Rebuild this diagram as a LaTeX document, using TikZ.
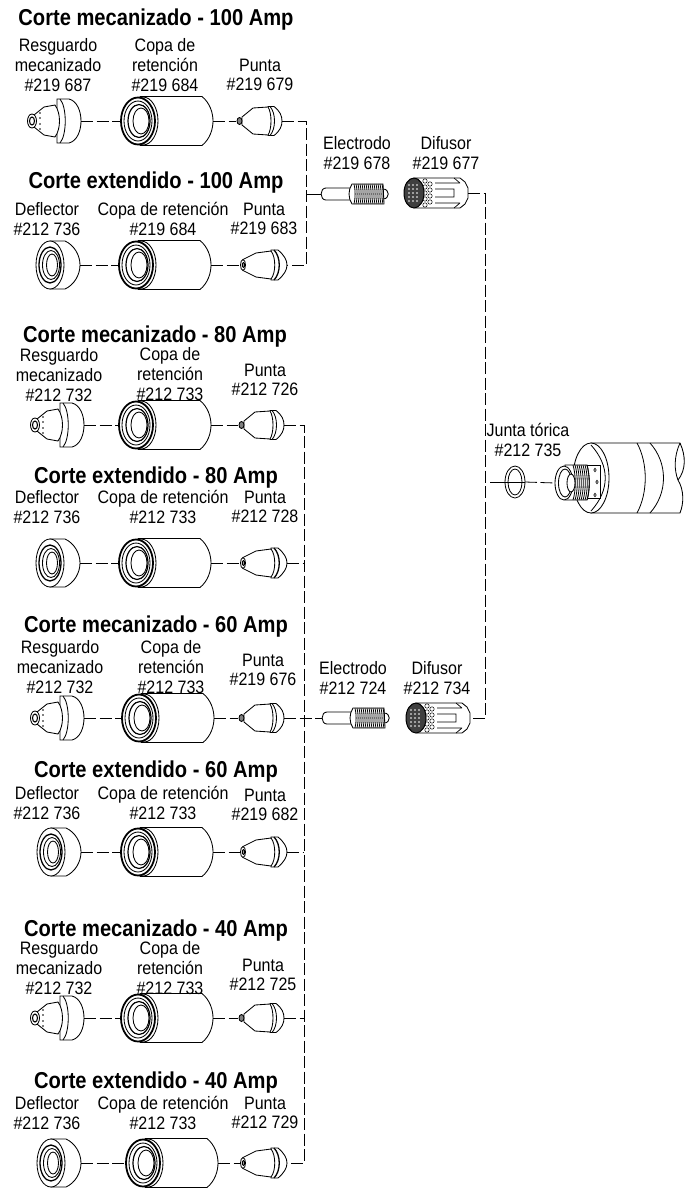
\documentclass[tikz,border=0pt]{standalone}
\usepackage{fontspec}
\setmainfont[FakeStretch=0.89]{Liberation Sans}
\newfontfamily\titfont[FakeStretch=0.875]{Liberation Sans}
\tikzset{
    %Define standard looks
    pieza/.style={draw=black, line width=0.85pt, fill=white},
    linea/.style={draw=black, line width=0.8pt, dash pattern=on 12pt off 3.5pt},
    titulo/.style={font=\titfont\bfseries\fontsize{23}{24}\selectfont, inner sep=0pt},
    etiq/.style={font=\fontsize{18}{19.6}\selectfont, align=center, inner sep=0pt},
    resguardo/.pic={
      \coordinate (-e) at (54,0);
      \coordinate (-w) at (0,0);
      \draw[pieza] (30,-22) -- (42,-22) .. controls (50,-20) and (54,-10) .. (54,0)
        .. controls (54,10) and (50,20) .. (42,22) -- (30,22) -- cycle;
      \draw[pieza] (33,-22) .. controls (40,-14) and (40,14) .. (33,22);
      \draw[pieza] (7,-6) -- (17,-14) -- (28,-16) .. controls (34,-8) and (34,8) .. (28,16) -- (17,14) -- (7,6) -- cycle;
      \draw[pieza] (5,0) ellipse [x radius=4.5pt, y radius=7pt];
      \draw[pieza, line width=1.1pt] (5,0) ellipse [x radius=2.5pt, y radius=4pt];
      \foreach \hy in {-8,-3,3,8} \fill (13,\hy) circle (0.8pt);
    },
    deflector/.pic={
      \coordinate (-e) at (44,0);
      \draw[pieza] (14,-24) -- (29,-24) .. controls (38,-20) and (44,-10) .. (44,0)
        .. controls (44,10) and (38,20) .. (29,24) -- (14,24) -- cycle;
      \draw[pieza] (14,0) ellipse [x radius=14pt, y radius=24pt];
      \draw[pieza, line width=1.3pt] (14,0) ellipse [x radius=11pt, y radius=18pt];
      \draw[pieza] (15,0) ellipse [x radius=8.5pt, y radius=14.5pt];
      \draw[pieza] (16,0) ellipse [x radius=5.5pt, y radius=11pt];
    },
    copa/.pic={
      \coordinate (-w) at (0,0);
      \coordinate (-e) at (93,0);
      \draw[pieza] (20,-24.5) -- (82,-24.5) .. controls (90,-18) and (93,-8) .. (93,0)
        .. controls (93,8) and (90,18) .. (82,24.5) -- (20,24.5) -- cycle;
      \draw[pieza] (23,0) ellipse [x radius=15pt, y radius=24pt];
      \draw[pieza, line width=1.8pt] (18,0) ellipse [x radius=17pt, y radius=23.5pt];
      \draw[pieza] (18,0) ellipse [x radius=14pt, y radius=20pt];
      \draw[pieza, line width=1.2pt] (19,0) ellipse [x radius=11pt, y radius=16.5pt];
      \draw[pieza] (21,0) ellipse [x radius=8pt, y radius=13pt];
    },
    puntam/.pic={
      \coordinate (-w) at (0,0);
      \coordinate (-e) at (46,0);
      \draw[pieza] (32,-14.5) -- (38,-14.5) .. controls (44,-10) and (46,-5) .. (46,0)
        .. controls (46,5) and (44,10) .. (38,14.5) -- (32,14.5) -- cycle;
      \draw[pieza] (34,-14.5) .. controls (40,-8) and (40,8) .. (34,14.5);
      \draw[pieza] (6,-4) -- (17,-13) -- (32,-14) .. controls (36,-8) and (36,8) .. (32,14) -- (17,13) -- (6,4) -- cycle;
      \draw[pieza, fill=black!50] (3.5,0) ellipse [x radius=2.5pt, y radius=3.5pt];
    },
    puntax/.pic={
      \coordinate (-w) at (0,0);
      \coordinate (-e) at (47,0);
      \draw[pieza] (31,-15) -- (38,-15) .. controls (44,-10) and (47,-5) .. (47,0)
        .. controls (47,5) and (44,10) .. (38,15) -- (31,15) -- cycle;
      \draw[pieza, line width=1.3pt] (34,-15) .. controls (41,-8) and (41,8) .. (34,15);
      \draw[pieza] (3,-5.5) -- (16,-12) -- (31,-14) .. controls (36,-8) and (36,8) .. (31,14) -- (16,12) -- (3,5.5) -- cycle;
      \draw[pieza] (3,0) ellipse [x radius=2.5pt, y radius=5.5pt];
      \draw[pieza, fill=black!40] (3.5,0) ellipse [x radius=1.2pt, y radius=2.5pt];
    },
    electrodo/.pic={
      \coordinate (-w) at (0,0);
      \coordinate (-e) at (68,0);
      \draw[pieza] (62,-5) .. controls (69,-5) and (69,5) .. (62,5) -- cycle;
      \draw[pieza] (5,-6) -- (31,-6) -- (31,6) -- (5,6) .. controls (-1.5,6) and (-1.5,-6) .. (5,-6) -- cycle;
      \draw[pieza] (31,-10) -- (62,-10) -- (63,10) -- (31,10) .. controls (27,4) and (27,-4) .. (31,-10) -- cycle;
      \foreach \tx in {33,35,...,61} \draw[line width=0.8pt] (\tx,-10) .. controls (\tx+1.5,-4) and (\tx+1.5,4) .. (\tx,10);
    },
    difusor/.pic={
      \coordinate (-w) at (0,0);
      \coordinate (-e) at (64,0);
      \draw[pieza] (11,-15) -- (56,-15) -- (61,-11) -- (64,-5) -- (64,5) -- (61,11) -- (56,15) -- (11,15) -- cycle;
      \draw[line width=0.7pt] (31,-10) -- (56,-10) (31,10) -- (56,10) (31,-4) -- (50,-4) -- (50,4) -- (31,4) (50,-15) -- (56,-10) (50,15) -- (56,10);
      \foreach \hy in {-12,-6,0,6,12} \draw[pieza, line width=0.5pt] (21,\hy) circle (2.2pt);
      \foreach \hy in {-9,-3,3,9} \draw[pieza, line width=0.5pt] (26,\hy) circle (2.2pt);
      \draw[pieza, fill=black!75, line width=1pt] (10,0) ellipse [x radius=10pt, y radius=15pt];
      \foreach \hx in {5,9,13} \foreach \hy in {-8,-4,0,4,8} \fill[white] (\hx,\hy) circle (0.8pt);
    },
    junta/.pic={
      \coordinate (-w) at (-10,0);
      \coordinate (-e) at (10,0);
      \draw[line width=0.8pt] (0,0) ellipse [x radius=10pt, y radius=16pt];
      \draw[line width=0.8pt] (0,0) ellipse [x radius=7pt, y radius=13pt];
    },
    antorcha/.pic={
      \coordinate (-w) at (-35,5);
      \draw[pieza] (1,-35) -- (90,-35) .. controls (96,-22) and (96,-8) .. (88,2)
        .. controls (94,12) and (94,25) .. (90,35) -- (1,35) -- cycle;
      \draw[line width=0.8pt] (90,-35) .. controls (84,-22) and (84,-8) .. (88,2);
      \draw[line width=0.8pt] (47,-35) .. controls (58,-15) and (58,15) .. (47,35);
      \draw[line width=0.8pt] (60,-35) .. controls (78,-15) and (78,15) .. (60,35);
      \draw[pieza] (1,0) ellipse [x radius=18pt, y radius=35pt];
      \draw[line width=0.8pt] (1,-33) .. controls (20,-12) and (20,12) .. (1,33);
      \draw[pieza] (-8,-13) rectangle (10,20);
      \foreach \hy/\hx in {-8/5,4/7,17/5} \draw[line width=0.6pt] (\hx,\hy) ellipse [x radius=1.2pt, y radius=1.8pt];
      \draw[pieza] (-25,-13) -- (-3,-13) .. controls (0,-2) and (0,12) .. (-3,22) -- (-25,22) -- cycle;
      \foreach \tx in {-17,-15,...,-3} \draw[line width=0.8pt] (\tx,-13) .. controls (\tx+3,-3) and (\tx+3,13) .. (\tx,22);
      \draw[pieza] (-26,5) ellipse [x radius=9pt, y radius=17pt];
      \draw[pieza] (-25,5) ellipse [x radius=6.5pt, y radius=14pt];
      \draw[pieza] (-19,5) ellipse [x radius=4pt, y radius=9pt];
    }
}
\begin{document}
\begin{tikzpicture}[x=1pt,y=-1pt]
\useasboundingbox (0,0) rectangle (696,1192);
% mechanized rows
\foreach \n/\fy/\xa/\xb/\xc/\xbus in {a/121/27/120/236/306, c/425/30/118/238/304, e/718/30/121/238/304, g/1018/30/120/238/304} {
  \pic (\n1) at (\xa,\fy) {resguardo};
  \pic (\n2) at (\xb,\fy) {copa};
  \pic (\n3) at (\xc,\fy) {puntam};
  \coordinate (bus\n) at (\xbus,\fy);
  \draw[linea] (\n1-e) -- (\n2-w);
  \draw[linea] (\n2-e) -- (\n3-w);
}
% extended rows
\foreach \n/\fy/\xa/\xb/\xc/\xbus in {b/265/36/118/240/306, d/563/36/118/240/304, f/852/37/120/240/304, h/1163/37/125/240/304} {
  \pic (\n1) at (\xa,\fy) {deflector};
  \pic (\n2) at (\xb,\fy) {copa};
  \pic (\n3) at (\xc,\fy) {puntax};
  \coordinate (bus\n) at (\xbus,\fy);
  \draw[linea] (\n1-e) -- (\n2-w);
  \draw[linea] (\n2-e) -- (\n3-w);
}
% right hand parts
\pic (elec1) at (321,194) {electrodo};
\pic (dif1) at (404,193) {difusor};
\pic (elec2) at (322,718) {electrodo};
\pic (dif2) at (406,718) {difusor};
\pic (anillo) at (515,482) {junta};
\pic (torch) at (590,478) {antorcha};
% buses
\coordinate (busu) at (306,194);
\coordinate (busm) at (304,718);
\coordinate (cola) at (485,193);
\coordinate (colb) at (485,718);
\coordinate (colc) at (490,482);
\draw[linea] (a3-e) -- (busa) -- (busb) -- (b3-e);
\draw[linea] (c3-e) -- (busc) -- (bush) -- (h3-e);
\foreach \n in {d,f,g} \draw[linea] (\n3-e) -- (bus\n);
\draw[draw=black, line width=0.8pt] (busu) -- (elec1-w);
\draw[linea] (e3-e) -- (elec2-w);
\draw[linea] (dif1-e) -- (cola) -- (colb) -- (dif2-e);
\draw[draw=black, line width=0.8pt] (colc) -- (anillo-e);
\draw[linea] (anillo-e) -- (torch-w);
% titles
\foreach \n/\x/\y/\txt in {
  a/156/20/Corte mecanizado - 100 Amp, b/156/183/Corte extendido - 100 Amp,
  c/155/337/Corte mecanizado - 80 Amp, d/156/478/Corte extendido - 80 Amp,
  e/156/627/Corte mecanizado - 60 Amp, f/156/772/Corte extendido - 60 Amp,
  g/156/931/Corte mecanizado - 40 Amp, h/156/1083/Corte extendido - 40 Amp}
  \node[titulo] (tit\n) at (\x,\y) {\txt};
% labels
\foreach \m/\x/\y/\txt in {
  a1/58/65/Resguardo\\mecanizado\\\#219 687, a2/165/65/Copa de\\retención\\\#219 684, a3/260/75/Punta\\\#219 679,
  b1/47/219/Deflector\\\#212 736, b2/163/219/Copa de retención\\\#219 684, b3/264/219/Punta\\\#219 683,
  u1/357/153/Electrodo\\\#219 678, u2/446/153/Difusor\\\#219 677,
  c1/59/375/Resguardo\\mecanizado\\\#212 732, c2/170/374/Copa de\\retención\\\#212 733, c3/265/380/Punta\\\#212 726,
  d1/47/507/Deflector\\\#212 736, d2/163/507/Copa de retención\\\#212 733, d3/265/507/Punta\\\#212 728,
  e1/60/667/Resguardo\\mecanizado\\\#212 732, e2/171/667/Copa de\\retención\\\#212 733, e3/263/670/Punta\\\#219 676,
  v1/353/678/Electrodo\\\#212 724, v2/437/678/Difusor\\\#212 734,
  f1/47/803/Deflector\\\#212 736, f2/163/803/Copa de retención\\\#212 733, f3/265/805/Punta\\\#219 682,
  g1/59/968/Resguardo\\mecanizado\\\#212 732, g2/170/968/Copa de\\retención\\\#212 733, g3/263/975/Punta\\\#212 725,
  h1/47/1113/Deflector\\\#212 736, h2/163/1113/Copa de retención\\\#212 733, h3/265/1113/Punta\\\#212 729,
  j1/528/440/Junta tórica\\\#212 735}
  \node[etiq] (lab\m) at (\x,\y) {\txt};
\end{tikzpicture}
\end{document}
